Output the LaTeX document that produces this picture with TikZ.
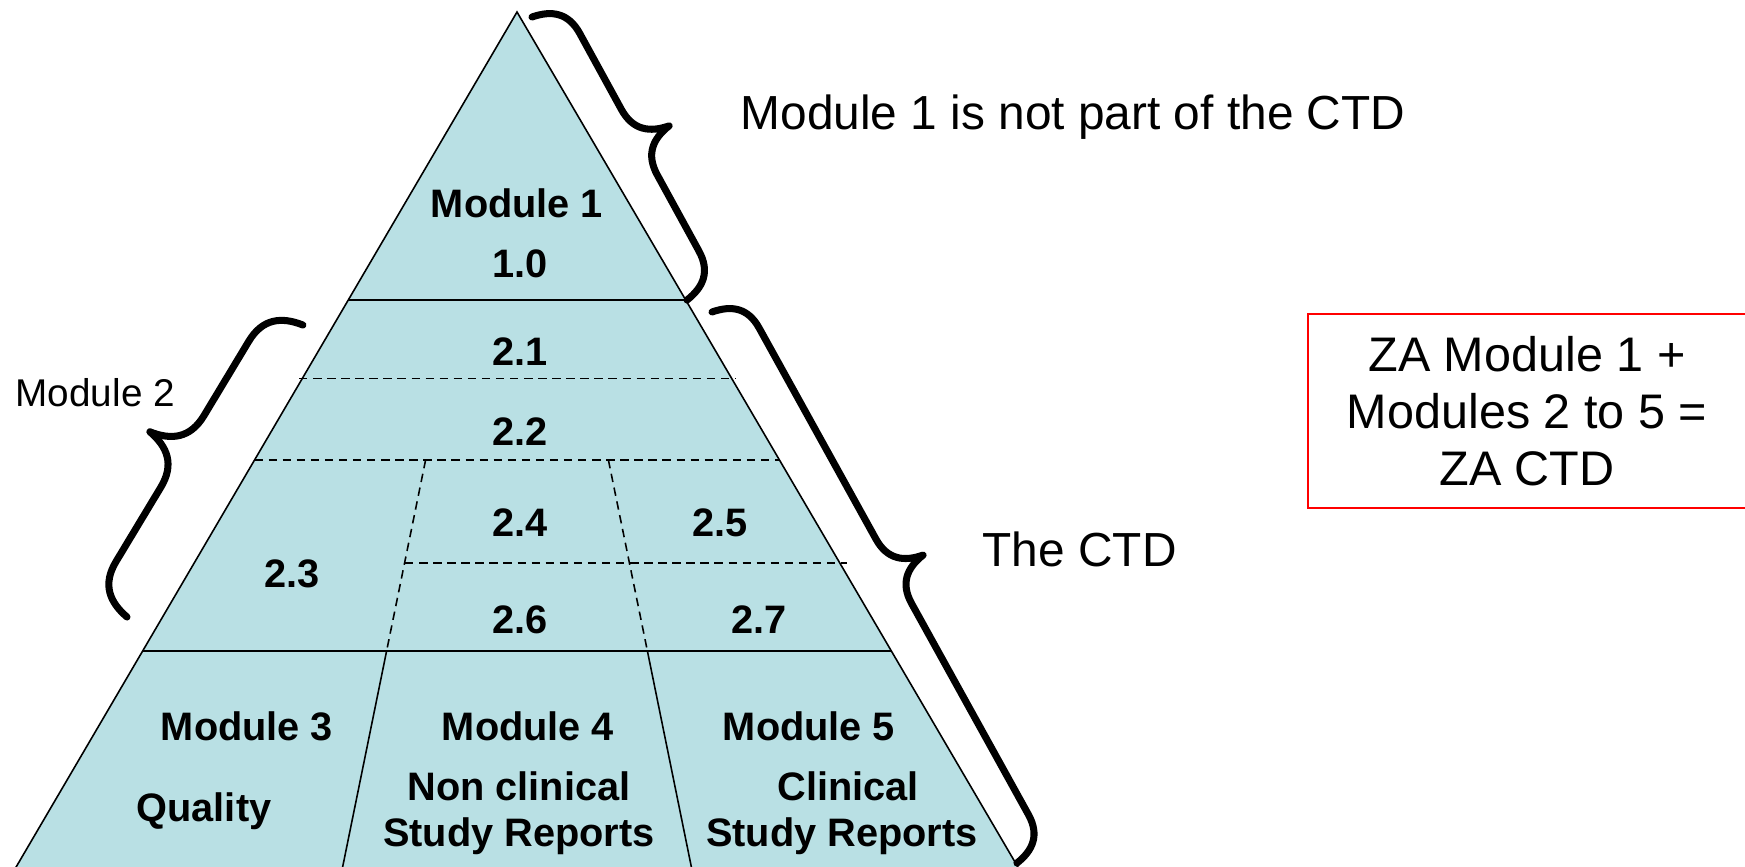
\documentclass[tikz,border=0pt]{standalone}
\usepackage{fontspec}
\setmainfont{Liberation Sans}
\usepackage{xcolor}
\usetikzlibrary{calc}
\definecolor{ctdfill}{RGB}{185,224,228}
\tikzset{
  ctdlabel/.style={font=\fontsize{11.3}{13}\selectfont\bfseries, inner sep=0pt, anchor=base},
  ctdnote/.style={font=\fontsize{13.6}{16}\selectfont, inner sep=0pt, anchor=base west},
  ctdline/.style={line width=0.45pt},
  ctddash/.style={ctdline, dash pattern=on 2.4pt off 1.6pt},
  ctdstroke/.style={line width=2pt, line cap=round, line join=round},
  % curly brace along local x, bulging to local +y; #1 = length, #2 = depth
  pics/ctdbrace/.style 2 args={code={
    \pgfmathsetmacro\bh{#1/2}
    \draw[ctdstroke, x=0.01cm, y=0.01cm]
      (0,0) .. controls ({0.05*#2},{0.3*#2}) and ({0.2*#2},{0.5*#2}) .. ({0.55*#2},{0.5*#2})
      -- ({\bh-0.55*#2},{0.5*#2})
      .. controls ({\bh-0.2*#2},{0.5*#2}) and ({\bh-0.05*#2},{0.7*#2}) .. (\bh,#2)
      .. controls ({\bh+0.05*#2},{0.7*#2}) and ({\bh+0.2*#2},{0.5*#2}) .. ({\bh+0.55*#2},{0.5*#2})
      -- ({#1-0.55*#2},{0.5*#2})
      .. controls ({#1-0.2*#2},{0.5*#2}) and ({#1-0.05*#2},{0.3*#2}) .. (#1,0);
  }},
  ctdbox/.style={draw=red, line width=0.5pt, align=center, font=\fontsize{13.8}{16.2}\selectfont},
}
\begin{document}
\begin{tikzpicture}[x=0.01cm,y=-0.01cm]
	\useasboundingbox (0,0) rectangle (1745,866);
	\clip (0,0) rectangle (1745,866);

	% Pyramid outline and corners
		\coordinate (apex) at (517,12);
		\coordinate (baseL) at (12,874);
		\coordinate (baseR) at (1022,874);
		\draw[ctdline, fill=ctdfill] (apex) -- (baseR) -- (baseL) -- cycle;

	% Module 1 / Module 2 / Modules 3-5 boundaries
		\coordinate (m1L) at (348,300);
		\coordinate (m1R) at (686,300);
		\coordinate (m2L) at (142.5,651);
		\coordinate (m2R) at (891.5,651);
		\draw[ctdline] (m1L) -- (m1R);
		\draw[ctdline] (m2L) -- (m2R);

	% Sections inside Module 2
		\draw[ctddash] (299,378.5) -- (736,378.5);
		\draw[ctddash] (254.5,460) -- (779.5,460);
		\coordinate (splitLtop) at (425.6,460);
		\coordinate (splitLmid) at (405,563);
		\coordinate (splitLbot) at (386.6,651);
		\coordinate (splitRtop) at (608.4,460);
		\coordinate (splitRbot) at (647.4,651);
		\draw[ctddash] (splitLtop) -- (splitLbot);
		\draw[ctddash] (splitRtop) -- (splitRbot);
		\draw[ctddash] (splitLmid) -- (847,563);

	% Columns of Modules 3, 4 and 5
		\draw[ctdline] (splitLbot) -- (341.2,874);
		\draw[ctdline] (splitRbot) -- (692.8,874);

	% Section numbers
		\node[ctdlabel] (mod1) at (517,217) {Module 1};
		\node[ctdlabel] (s10) at (520,277) {1.0};
		\node[ctdlabel] (s21) at (520,365) {2.1};
		\node[ctdlabel] (s22) at (520,445) {2.2};
		\node[ctdlabel] (s24) at (520,536) {2.4};
		\node[ctdlabel] (s25) at (720,536) {2.5};
		\node[ctdlabel] (s23) at (292,587) {2.3};
		\node[ctdlabel] (s26) at (520,633) {2.6};
		\node[ctdlabel] (s27) at (759,633) {2.7};

	% Bottom modules
		\node[ctdlabel] (mod3) at (247,740) {Module 3};
		\node[ctdlabel] (mod4) at (528,740) {Module 4};
		\node[ctdlabel] (mod5) at (809,740) {Module 5};
		\node[ctdlabel] (quality) at (204,821) {Quality};
		\node[ctdlabel] (nonclin) at (519,800) {Non clinical};
		\node[ctdlabel] (clin) at (848,800) {Clinical};
		\node[ctdlabel] (reports4) at (519,846) {Study Reports};
		\node[ctdlabel] (reports5) at (842,846) {Study Reports};

	% Braces and their notes
		\coordinate (b1top) at (532,17);
		\coordinate (b2top) at (712,312);
		\coordinate (b3bot) at (127,617);
		\pic[rotate=-61.29] at (b1top) {ctdbrace={322.7}{68}};
		\pic[rotate=-61.04] at (b2top) {ctdbrace={629.8}{67}};
		\pic[rotate=58.93] at (b3bot) {ctdbrace={340.9}{76}};
		\node[ctdnote] (notctd) at (740,129) {Module 1 is not part of the CTD};
		\node[ctdnote] (thectd) at (982,566) {The CTD};
		\node[ctdnote, font=\fontsize{11}{13}\selectfont] (mod2) at (15,406) {Module 2};

	% ZA summary box
		\node[ctdbox, minimum width=4.38cm, minimum height=1.94cm] (zactd) at (1527,411)
		{ZA Module 1 +\\Modules 2 to 5 =\\ZA CTD};
\end{tikzpicture}
\end{document}
